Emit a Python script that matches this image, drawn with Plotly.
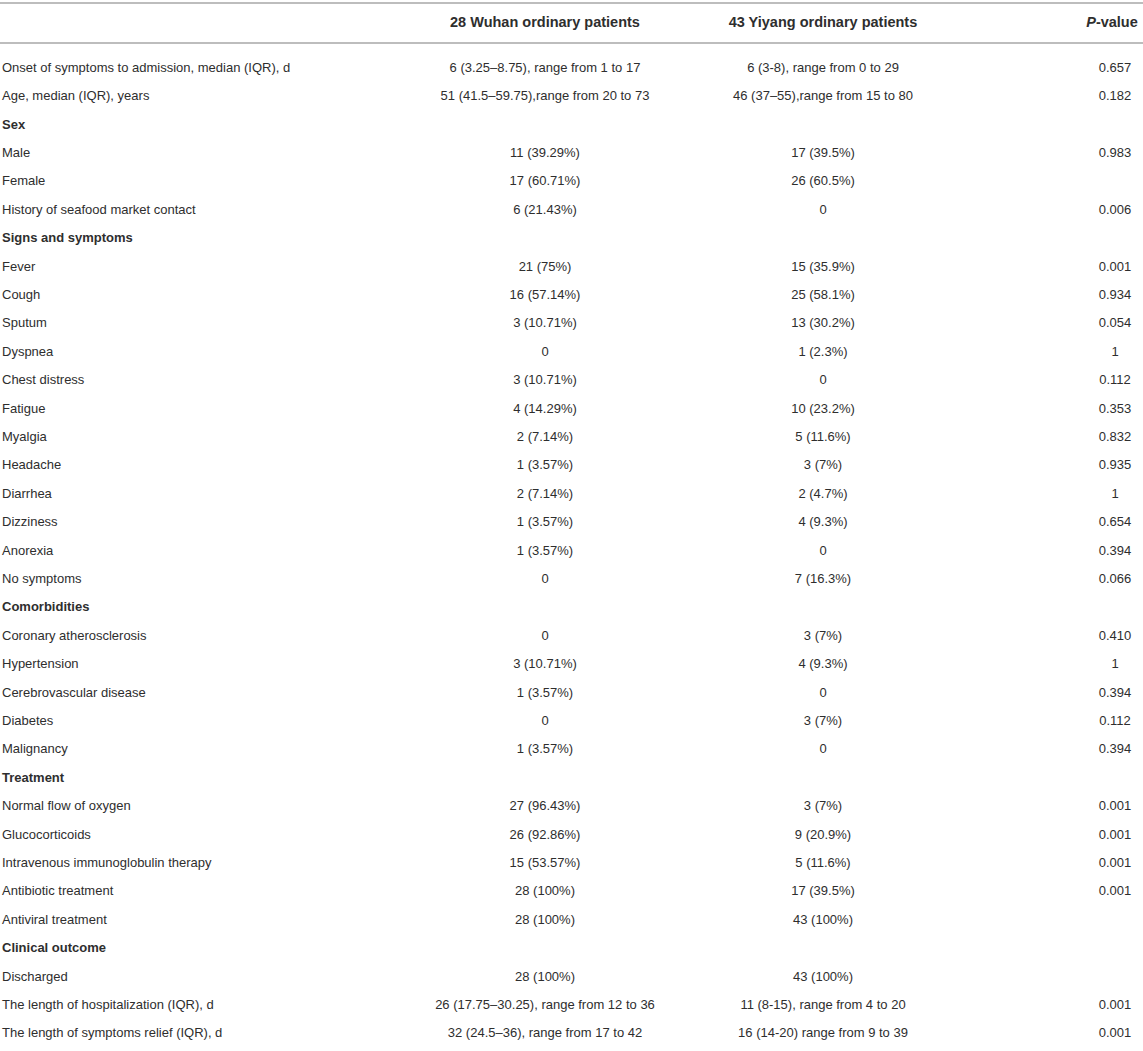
import plotly.graph_objects as go

# table content, one list per column
labels = [
    "Onset of symptoms to admission, median (IQR), d",
    "Age, median (IQR), years",
    "Sex",
    "Male",
    "Female",
    "History of seafood market contact",
    "Signs and symptoms",
    "Fever",
    "Cough",
    "Sputum",
    "Dyspnea",
    "Chest distress",
    "Fatigue",
    "Myalgia",
    "Headache",
    "Diarrhea",
    "Dizziness",
    "Anorexia",
    "No symptoms",
    "Comorbidities",
    "Coronary atherosclerosis",
    "Hypertension",
    "Cerebrovascular disease",
    "Diabetes",
    "Malignancy",
    "Treatment",
    "Normal flow of oxygen",
    "Glucocorticoids",
    "Intravenous immunoglobulin therapy",
    "Antibiotic treatment",
    "Antiviral treatment",
    "Clinical outcome",
    "Discharged",
    "The length of hospitalization (IQR), d",
    "The length of symptoms relief (IQR), d",
]

wuhan = [
    "6 (3.25–8.75), range from 1 to 17",
    "51 (41.5–59.75),range from 20 to 73",
    "",
    "11 (39.29%)",
    "17 (60.71%)",
    "6 (21.43%)",
    "",
    "21 (75%)",
    "16 (57.14%)",
    "3 (10.71%)",
    "0",
    "3 (10.71%)",
    "4 (14.29%)",
    "2 (7.14%)",
    "1 (3.57%)",
    "2 (7.14%)",
    "1 (3.57%)",
    "1 (3.57%)",
    "0",
    "",
    "0",
    "3 (10.71%)",
    "1 (3.57%)",
    "0",
    "1 (3.57%)",
    "",
    "27 (96.43%)",
    "26 (92.86%)",
    "15 (53.57%)",
    "28 (100%)",
    "28 (100%)",
    "",
    "28 (100%)",
    "26 (17.75–30.25), range from 12 to 36",
    "32 (24.5–36), range from 17 to 42",
]

yiyang = [
    "6 (3-8), range from 0 to 29",
    "46 (37–55),range from 15 to 80",
    "",
    "17 (39.5%)",
    "26 (60.5%)",
    "0",
    "",
    "15 (35.9%)",
    "25 (58.1%)",
    "13 (30.2%)",
    "1 (2.3%)",
    "0",
    "10 (23.2%)",
    "5 (11.6%)",
    "3 (7%)",
    "2 (4.7%)",
    "4 (9.3%)",
    "0",
    "7 (16.3%)",
    "",
    "3 (7%)",
    "4 (9.3%)",
    "0",
    "3 (7%)",
    "0",
    "",
    "3 (7%)",
    "9 (20.9%)",
    "5 (11.6%)",
    "17 (39.5%)",
    "43 (100%)",
    "",
    "43 (100%)",
    "11 (8-15), range from 4 to 20",
    "16 (14-20) range from 9 to 39",
]

p_values = [
    "0.657", "0.182", "", "0.983", "", "0.006", "",
    "0.001", "0.934", "0.054", "1", "0.112", "0.353", "0.832", "0.935",
    "1", "0.654", "0.394", "0.066", "",
    "0.410", "1", "0.394", "0.112", "0.394", "",
    "0.001", "0.001", "0.001", "0.001", "", "",
    "", "0.001", "0.001",
]

section_rows = ["Sex", "Signs and symptoms", "Comorbidities", "Treatment", "Clinical outcome"]

headers = ["", "28 Wuhan ordinary patients", "43 Yiyang ordinary patients", "<i>P</i>-value"]

W, H = 1143, 1051
ROW0, ROW_H = 68.5, 28.4      # pixel centre of first body row, row pitch
col_x = [2, 545, 823, 1115]
TEXT = "#2e2e2e"
RULE = "#bdbdbd"
FONT = "Liberation Sans, Arial, Helvetica, sans-serif"


def px_to_row(y):
    return (y - ROW0) / ROW_H


rows = list(range(len(labels)))
label_text = [f"<b>{t}</b>" if t in section_rows else t for t in labels]
body_font = dict(family=FONT, size=13, color=TEXT)

fig = go.Figure()

# body columns
fig.add_trace(go.Scatter(x=[col_x[0]] * len(rows), y=rows, text=label_text,
                         mode="text", textposition="middle right",
                         textfont=body_font))
for cx, col in zip(col_x[1:], [wuhan, yiyang, p_values]):
    fig.add_trace(go.Scatter(x=[cx] * len(rows), y=rows, text=col,
                             mode="text", textposition="middle center",
                             textfont=body_font))

# header row
hy = px_to_row(23)
fig.add_trace(go.Scatter(x=[545, 823, 1112], y=[hy] * 3,
                         text=[f"<b>{h}</b>" for h in headers[1:]],
                         mode="text", textposition="middle center",
                         textfont=dict(family=FONT, size=14.5, color=TEXT)))

fig.update_traces(hoverinfo="skip", showlegend=False)

# horizontal rules above and below the header
for yp in (3, 43):
    fig.add_shape(type="line", x0=0, x1=W, y0=px_to_row(yp), y1=px_to_row(yp),
                  line=dict(color=RULE, width=2))

fig.update_xaxes(range=[0, W], visible=False, fixedrange=True)
fig.update_yaxes(range=[px_to_row(H), px_to_row(0)], visible=False, fixedrange=True)
fig.update_layout(width=W, height=H, margin=dict(l=0, r=0, t=0, b=0),
                  paper_bgcolor="white", plot_bgcolor="white")

fig.write_html("out.html", config={"displayModeBar": False},
               post_script="document.body.style.margin='0';")
